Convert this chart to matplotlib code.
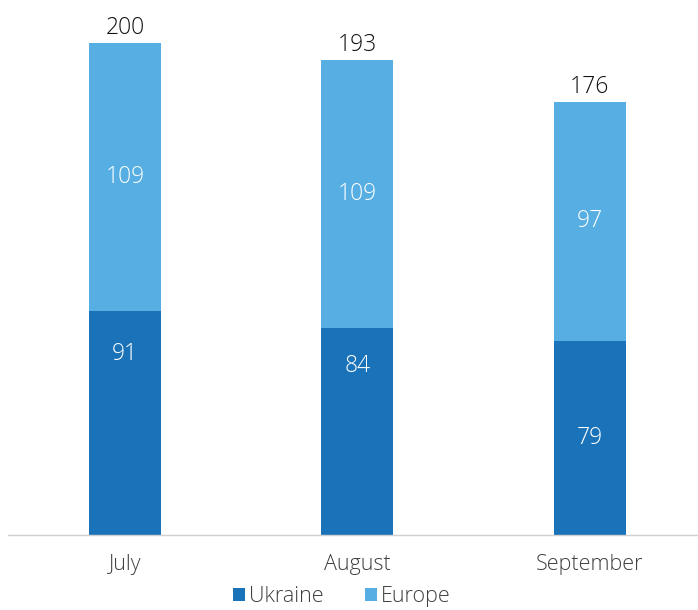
import matplotlib
matplotlib.use("Agg")
import matplotlib.pyplot as plt

categories = ["July", "August", "September"]
ukraine = [91, 84, 79]
europe = [109, 109, 97]
totals = [200, 193, 176]

# vertical placement of the Ukraine labels (fraction of the segment height, from the top)
ua_label_frac = [0.19, 0.18, 0.50]

c_ua = "#1a72b8"
c_eu = "#56aee2"

plt.rcParams['font.family'] = ['Open Sans', 'DejaVu Sans']

fig = plt.figure(figsize=(6.98, 6.10), dpi=100)
W, H = 698, 610
ax = fig.add_axes([8 / W, (H - 535) / H, 690 / W, (535 - 43) / H])

x = list(range(len(categories)))
bw = 0.31
ax.bar(x, ukraine, width=bw, color=c_ua, label="Ukraine")
ax.bar(x, europe, width=bw, bottom=ukraine, color=c_eu, label="Europe")

fs = 16.5
for i in x:
    ax.text(i, ukraine[i] * (1 - ua_label_frac[i]), str(ukraine[i]), ha="center", va="center",
            color="white", fontsize=fs, fontweight="light")
    ax.text(i, ukraine[i] + europe[i] / 2, str(europe[i]), ha="center", va="center",
            color="white", fontsize=fs, fontweight="light")
    ax.text(i, totals[i] + 6.0, str(totals[i]), ha="center", va="center",
            color="#111111", fontsize=fs, fontweight="light", clip_on=False)

ax.set_xlim(-0.503, 2.465)
ax.set_ylim(0, 200)
ax.set_xticks(x)
ax.set_xticklabels(categories, fontsize=15.5, color="#404040", fontweight="light")
ax.tick_params(axis="x", length=0, pad=14)
ax.set_yticks([])
for s in ["top", "right", "left"]:
    ax.spines[s].set_visible(False)
ax.spines["bottom"].set_color("#d0d0d0")
ax.spines["bottom"].set_linewidth(1)

leg = fig.legend(loc="lower center", bbox_to_anchor=(0.49, -0.027), ncol=2, frameon=False,
                 prop={"size": 15.5, "weight": "light"}, handlelength=0.55, handleheight=0.55,
                 columnspacing=1.9, handletextpad=0.2, labelcolor="#404040")

fig.savefig("out.png", dpi=100)
